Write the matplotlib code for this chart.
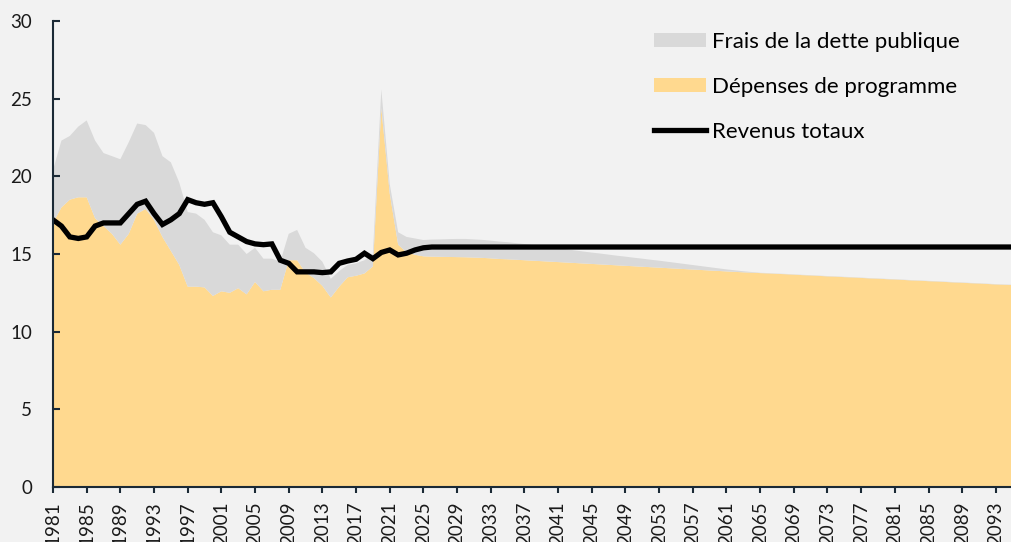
import matplotlib
matplotlib.use("Agg")
import matplotlib.pyplot as plt
from matplotlib.patches import Patch
from matplotlib.lines import Line2D

years = list(range(1981, 2096))

# Dépenses de programme (% du PIB)
programme = [
    17.0, 18.0, 18.5, 18.65, 18.65, 17.3, 16.8, 16.3, 15.6, 16.3,
    17.6, 17.9, 17.2, 16.1, 15.2, 14.3, 12.9, 12.9, 12.85, 12.3,
    12.6, 12.5, 12.8, 12.4, 13.2, 12.6, 12.7, 12.7, 14.6, 14.6,
    13.8, 13.45, 12.95, 12.2, 12.9, 13.5, 13.6, 13.75, 14.2, 24.4,
    18.9, 15.6, 15.1, 14.95,
    14.85, 14.83, 14.82, 14.81, 14.80, 14.79, 14.77, 14.75, 14.72, 14.68,
    14.66, 14.63, 14.60, 14.57, 14.54, 14.51, 14.48, 14.45, 14.42, 14.39,
    14.36, 14.33, 14.30, 14.27, 14.24, 14.21, 14.18, 14.15, 14.12, 14.09,
    14.06, 14.03, 14.00, 13.97, 13.94, 13.91, 13.88, 13.85, 13.82, 13.80,
    13.77, 13.75, 13.72, 13.70, 13.67, 13.64, 13.62, 13.59, 13.56, 13.54,
    13.51, 13.49, 13.46, 13.43, 13.41, 13.38, 13.36, 13.33, 13.30, 13.28,
    13.25, 13.23, 13.20, 13.17, 13.15, 13.12, 13.10, 13.07, 13.04, 13.02,
    13.00,
]

# Frais de la dette publique (% du PIB)
debt = [
    3.4, 4.3, 4.1, 4.55, 4.95, 5.0, 4.7, 5.0, 5.5, 5.9,
    5.8, 5.4, 5.6, 5.2, 5.7, 5.3, 4.8, 4.7, 4.35, 4.1,
    3.6, 3.1, 2.8, 2.6, 2.2, 2.1, 2.0, 1.8, 1.7, 1.95,
    1.6, 1.6, 1.55, 1.2, 1.0, 0.8, 0.8, 0.85, 0.8, 1.2,
    0.6, 0.8, 1.0, 1.05,
    1.05, 1.10, 1.12, 1.15, 1.17, 1.18, 1.17, 1.16, 1.14, 1.12,
    1.10, 1.07, 1.04, 1.01, 0.97, 0.93, 0.89, 0.85, 0.81, 0.77,
    0.73, 0.70, 0.66, 0.62, 0.59, 0.55, 0.52, 0.48, 0.45, 0.41,
    0.37, 0.33, 0.29, 0.25, 0.21, 0.17, 0.13, 0.10, 0.07, 0.04,
] + [0.02] * 31

# Revenus totaux (% du PIB)
revenue = [
    17.2, 16.8, 16.1, 16.0, 16.1, 16.8, 17.0, 17.0, 17.0, 17.6,
    18.2, 18.4, 17.6, 16.9, 17.2, 17.6, 18.5, 18.3, 18.2, 18.3,
    17.4, 16.4, 16.1, 15.8, 15.65, 15.6, 15.65, 14.6, 14.4, 13.85,
    13.85, 13.85, 13.8, 13.85, 14.4, 14.55, 14.66, 15.05, 14.7, 15.1,
    15.26, 14.94, 15.05, 15.26, 15.4, 15.45,
] + [15.45] * 69

tick_years = list(range(1981, 2094, 4))

BG = "#F2F2F2"
YELLOW = "#FFD98F"
GREY = "#D9D9D9"
AXIS = "#1B2A36"

plt.rcParams["font.family"] = ["Lato", "DejaVu Sans"]

fig = plt.figure(figsize=(10.11, 5.42), dpi=100, facecolor=BG)
ax = fig.add_axes([53 / 1011, 55 / 542, 1 - 53 / 1011, 466 / 542])
ax.set_facecolor(BG)

ax.stackplot(years, programme, debt, colors=[YELLOW, GREY], linewidth=0)
ax.plot(years, revenue, color="black", lw=3.8, solid_joinstyle="miter")

ax.set_xlim(1981, 2094.8)
ax.set_ylim(0, 30)
ax.set_yticks([0, 5, 10, 15, 20, 25, 30])
ax.set_xticks(tick_years)
# the year labels run past the bottom edge, as in the original
ax.set_xticklabels([str(y) for y in tick_years], rotation=90)

for s in ["top", "right"]:
    ax.spines[s].set_visible(False)
for s in ["left", "bottom"]:
    ax.spines[s].set_color(AXIS)
    ax.spines[s].set_linewidth(1.5)

ax.tick_params(axis="y", direction="in", length=5, width=1.5, color=AXIS,
               labelsize=13.5, pad=15, labelcolor="#1a1a1a")
ax.tick_params(axis="x", direction="out", length=4.5, width=1.5, color=AXIS,
               labelsize=13.5, pad=6, labelcolor="#1a1a1a")

handles = [
    Patch(facecolor=GREY, edgecolor="none", label="Frais de la dette publique"),
    Patch(facecolor=YELLOW, edgecolor="none", label="Dépenses de programme"),
    Line2D([0], [0], color="black", lw=3.8, label="Revenus totaux"),
]
ax.legend(handles=handles, loc="upper left",
          bbox_to_anchor=(654 / 1011, 1 - 32 / 542), bbox_transform=fig.transFigure,
          frameon=False, fontsize=16, handlelength=2.35, handleheight=0.6,
          handletextpad=0.26, labelspacing=1.12, borderpad=0, borderaxespad=0)

fig.savefig("out.png", dpi=100, facecolor=BG)
